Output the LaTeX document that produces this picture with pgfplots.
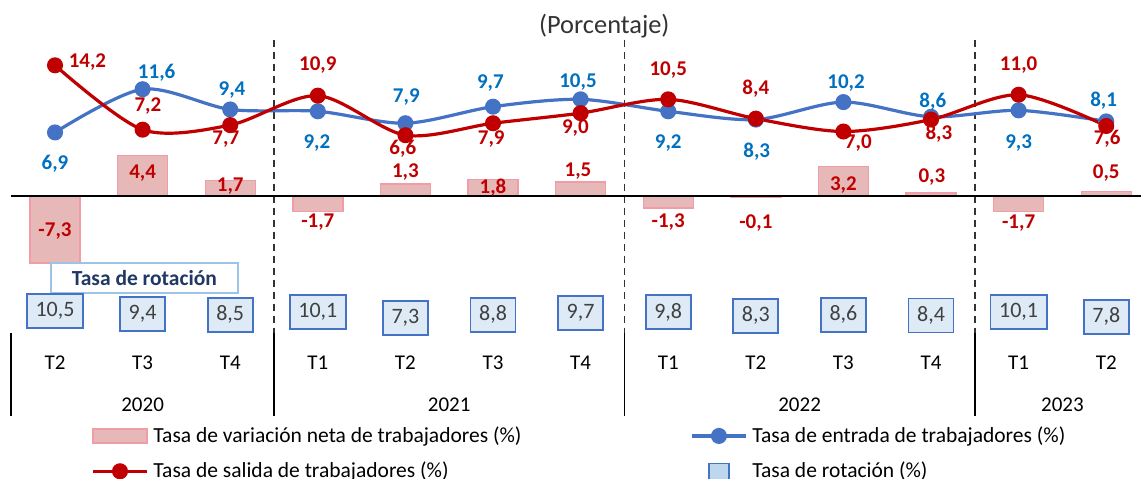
\documentclass[border=0pt]{standalone}
\usepackage{fontspec}
\setmainfont{Carlito}
\usepackage{pgfplots}
\usepackage{pgfplotstable}
\pgfplotsset{compat=1.18}
\definecolor{barfill}{HTML}{E6B8B7}
\definecolor{bardraw}{HTML}{F29CA8}
\definecolor{redl}{HTML}{C00000}
\definecolor{bluel}{HTML}{4472C4}
\definecolor{bluet}{HTML}{0070C0}
\definecolor{rotfill}{HTML}{DEEBF7}
\definecolor{navy}{HTML}{1F3864}
\definecolor{lightb}{HTML}{9DC3E6}
\definecolor{graytxt}{HTML}{404040}
\definecolor{legsq}{HTML}{BDD7EE}

\pgfplotstableread{
x net ent sal
0 -7.3 6.9 14.2
1 4.4 11.6 7.2
2 1.7 9.4 7.7
3 -1.7 9.2 10.9
4 1.3 7.9 6.6
5 1.8 9.7 7.9
6 1.5 10.5 9.0
7 -1.3 9.2 10.5
8 -0.1 8.3 8.4
9 3.2 10.2 7.0
10 0.3 8.6 8.3
11 -1.7 9.3 11.0
12 0.5 8.1 7.6
}\data

% rotation rate: x, box position, value
\pgfplotstableread{
x y lab
0 -12.50 10,5
1 -12.83 9,4
2 -12.93 8,5
3 -12.61 10,1
4 -13.26 7,3
5 -12.93 8,8
6 -12.72 9,7
7 -12.66 9,8
8 -13.04 8,3
9 -12.93 8,6
10 -13.00 8,4
11 -12.61 10,1
12 -13.15 7,8
}\rot

\pgfplotstableread{
x y lab
0 3.5 6,9
1.16 13.37 11,6
2.02 11.52 9,4
2.99 5.76 9,2
4.01 10.76 7,9
4.97 12.28 9,7
5.97 12.39 10,5
7.0 5.76 9,2
8.01 4.78 8,3
9.03 12.28 10,2
10.02 10.22 8,6
11.0 5.76 9,3
11.97 10.33 8,1
}\bluelab

\pgfplotstableread{
x y lab
0.37 14.57 14,2
1.06 9.78 7,2
1.95 6.2 7,7
3.0 14.24 10,9
3.97 5.11 6,6
4.98 6.2 7,9
5.94 7.39 9,0
7.0 13.7 10,5
8.0 11.63 8,4
9.17 5.76 7,0
10.09 6.74 8,3
11.0 14.24 11,0
12.01 6.2 7,6
}\redlab

\pgfplotstableread{
x y lab
0 -3.8 -7,3
1.0 2.5 4,4
2.0 1.09 1,7
3.0 -2.83 -1,7
4.0 2.61 1,3
5.0 0.87 1,8
5.97 2.72 1,5
7.0 -2.83 -1,3
8.0 -2.93 -0,1
9.0 1.2 3,2
10.01 2.07 0,3
11.0 -2.93 -1,7
12.0 2.5 0,5
}\barlab

\begin{document}
\begin{tikzpicture}
\begin{axis}[
  scale only axis,
  width=565pt, height=146.7pt,
  xmin=-0.5, xmax=12.4,
  ymin=-14.9, ymax=17,
  clip=false,
  axis line style={draw=none},
  ytick=\empty,
  xtick={0,...,12},
  xticklabels={T2,T3,T4,T1,T2,T3,T4,T1,T2,T3,T4,T1,T2},
  major tick length=0pt,
  xticklabel style={anchor=center, yshift=-15pt, font=\fontsize{10.5}{12}\selectfont},
  legend columns=2,
  legend cell align=left,
  legend style={draw=none, fill=none, at={(axis cs:0.411,-24.6)}, anchor=north west,
    font=\fontsize{10.75}{12}\selectfont, row sep=4.3pt, inner sep=0pt,
    nodes={inner xsep=2.4pt},
    /tikz/every even column/.append style={column sep=82pt}},
]
% separators
\draw[black!80, dash pattern=on 3.5pt off 2.5pt, line width=0.7pt] (axis cs:2.5,17) -- (axis cs:2.5,-14.9);
\draw[black!80, dash pattern=on 3.5pt off 2.5pt, line width=0.7pt] (axis cs:6.5,17) -- (axis cs:6.5,-14.9);
\draw[black!80, dash pattern=on 3.5pt off 2.5pt, line width=0.7pt] (axis cs:10.5,17) -- (axis cs:10.5,-14.9);
\draw[black, line width=0.9pt] (axis cs:-0.5,-14.9) -- (axis cs:-0.5,-23.9);
\draw[black, line width=0.9pt] (axis cs:2.5,-14.9) -- (axis cs:2.5,-23.9);
\draw[black, line width=0.9pt] (axis cs:6.5,-14.9) -- (axis cs:6.5,-23.9);
\draw[black, line width=0.9pt] (axis cs:10.5,-14.9) -- (axis cs:10.5,-23.9);

\addplot[ybar, bar width=25pt, bar shift=0pt, fill=barfill, draw=bardraw, line width=0.7pt,
  legend image code/.code={\draw[fill=barfill, draw=bardraw, line width=0.7pt] (0pt,-3.5pt) rectangle (27pt,3.5pt);}]
  table[x=x, y=net] {\data};
\addlegendentry{Tasa de variación neta de trabajadores (\%)}

\addplot[bluel, line width=1.6pt, smooth, tension=0.5, mark=*, mark size=3.2pt, mark options={fill=bluel, draw=bluel},
  legend image code/.code={\draw[bluel, line width=1.6pt] (0pt,0pt) -- (27pt,0pt); \fill[bluel] (13.5pt,0pt) circle (3.2pt);}]
  table[x=x, y=ent] {\data};
\addlegendentry{Tasa de entrada de trabajadores (\%)}

\addplot[redl, line width=1.6pt, smooth, tension=0.5, mark=*, mark size=3.2pt, mark options={fill=redl, draw=redl},
  legend image code/.code={\draw[redl, line width=1.6pt] (0pt,0pt) -- (27pt,0pt); \fill[redl] (13.5pt,0pt) circle (3.2pt);}]
  table[x=x, y=sal] {\data};
\addlegendentry{Tasa de salida de trabajadores (\%)}

\addlegendimage{legend image code/.code={\path[draw=none] (0pt,0pt) -- (27pt,0pt); \draw[fill=legsq, draw=bluel, line width=0.6pt] (8.5pt,-5pt) rectangle (18.5pt,4pt);}}
\addlegendentry{Tasa de rotación (\%)}

% zero line
\draw[black, line width=1pt] (axis cs:-0.5,0) -- (axis cs:12.4,0);

% data labels
\addplot[forget plot, draw=none, mark=none, nodes near coords, point meta=explicit symbolic,
  every node near coord/.style={anchor=center, text=bluet, font=\fontsize{10.5}{12}\selectfont\bfseries}]
  table[x=x, y=y, meta=lab] {\bluelab};
\addplot[forget plot, draw=none, mark=none, nodes near coords, point meta=explicit symbolic,
  every node near coord/.style={anchor=center, text=redl, font=\fontsize{10.5}{12}\selectfont\bfseries}]
  table[x=x, y=y, meta=lab] {\redlab};
\addplot[forget plot, draw=none, mark=none, nodes near coords, point meta=explicit symbolic,
  every node near coord/.style={anchor=center, text=redl, font=\fontsize{10.5}{12}\selectfont\bfseries}]
  table[x=x, y=y, meta=lab] {\barlab};
% rotation boxes
\addplot[forget plot, draw=none, mark=none, nodes near coords, point meta=explicit symbolic,
  every node near coord/.style={anchor=center, text=graytxt, font=\fontsize{11}{12}\selectfont,
    draw=bluel, fill=rotfill, line width=0.9pt, inner xsep=4.3pt, minimum height=17pt}]
  table[x=x, y=y, meta=lab] {\rot};

\node[draw=lightb, fill=white, line width=0.8pt, minimum width=93.5pt, minimum height=15pt, inner sep=0pt,
  text=navy, font=\fontsize{10.75}{12}\selectfont\bfseries] at (axis cs:1.02,-8.91) {Tasa de rotación};

% years
\node[font=\fontsize{10.5}{12}\selectfont] at (axis cs:1,-22.7) {2020};
\node[font=\fontsize{10.5}{12}\selectfont] at (axis cs:4.5,-22.7) {2021};
\node[font=\fontsize{10.5}{12}\selectfont] at (axis cs:8.5,-22.7) {2022};
\node[font=\fontsize{10.5}{12}\selectfont] at (axis cs:11.5,-22.7) {2023};

% subtitle
\node[font=\fontsize{13.2}{15}\selectfont, text=black!80] at (axis cs:6.27,18.45) {(Porcentaje)};

\coordinate (bbl) at (axis cs:-0.628,-30.76);
\coordinate (btr) at (axis cs:12.397,21.3);
\end{axis}
\pgfresetboundingbox
\useasboundingbox (bbl) rectangle (btr);
\end{tikzpicture}
\end{document}
